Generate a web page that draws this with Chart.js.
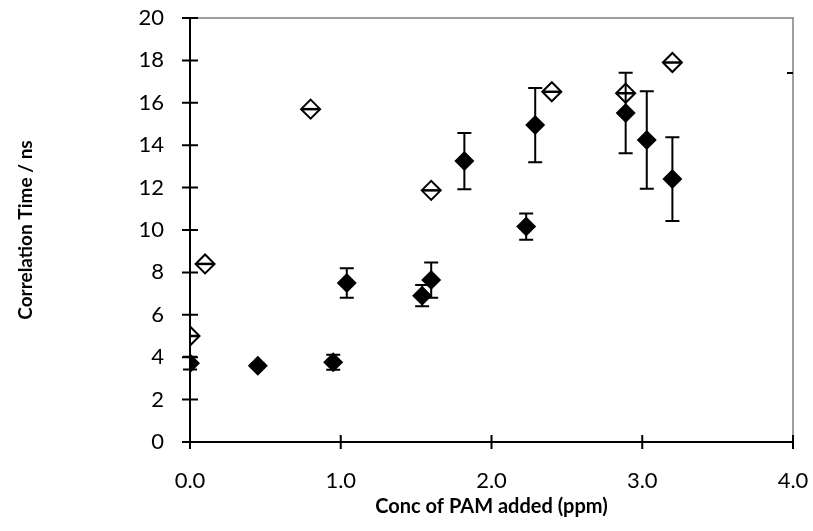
<!DOCTYPE html>
<html>
<head>
    <title>Correlation Time</title>
    <style type="text/css">
        body {
            margin: 0;
            background: #ffffff;
        }
        #box {
            width: 813px;
            height: 531px;
            position: relative;
        }
    </style>
</head>
<body>
    <div id="box"><canvas id="chartContainer"></canvas></div>
    <script src="https://cdn.jsdelivr.net/npm/chart.js@4.4.0/dist/chart.umd.min.js"></script>
    <script>
        // filled diamonds (with error bars)
        var filledX = [0.00, 0.45, 0.95, 1.04, 1.54, 1.60, 1.82, 2.23, 2.29, 2.89, 3.03, 3.20];
        var filledY = [3.72, 3.60, 3.76, 7.50, 6.90, 7.64, 13.25, 10.16, 14.95, 15.52, 14.25, 12.40];
        var filledErr = [0.3, 0.1, 0.35, 0.70, 0.50, 0.83, 1.33, 0.62, 1.75, 1.90, 2.30, 1.97];

        // open diamonds
        var openX = [0.00, 0.10, 0.80, 1.60, 2.40, 2.89, 3.20];
        var openY = [5.00, 8.40, 15.70, 11.87, 16.52, 16.45, 17.90];

        var xTicks = [0, 1, 2, 3, 4];
        var yTicks = [0, 2, 4, 6, 8, 10, 12, 14, 16, 18, 20];

        var FONT = "Lato, 'Open Sans', sans-serif";

        function toPoints(xs, ys) {
            return xs.map((x, i) => ({ x: x, y: ys[i] }));
        }

        // keep the plot box where the layout padding puts it
        function noOverflow(s) {
            s.paddingTop = 0;
            s.paddingBottom = 0;
            s.paddingLeft = 0;
            s.paddingRight = 0;
        }

        var errorBars = {
            id: 'errorBars',
            beforeDatasetDraw(chart, args) {
                if (args.index !== 0) return;
                var ctx = chart.ctx;
                var xs = chart.scales.x, ys = chart.scales.y;
                ctx.save();
                ctx.strokeStyle = '#000';
                ctx.lineWidth = 2;
                filledX.forEach((x, i) => {
                    var px = xs.getPixelForValue(x);
                    var top = ys.getPixelForValue(filledY[i] + filledErr[i]);
                    var bot = ys.getPixelForValue(filledY[i] - filledErr[i]);
                    ctx.beginPath();
                    ctx.moveTo(px, top); ctx.lineTo(px, bot);
                    ctx.moveTo(px - 7, top); ctx.lineTo(px + 7, top);
                    ctx.moveTo(px - 7, bot); ctx.lineTo(px + 7, bot);
                    ctx.stroke();
                });
                ctx.restore();
            }
        };

        var frame = {
            id: 'frame',
            beforeDatasetsDraw(chart) {
                var ctx = chart.ctx;
                var a = chart.chartArea;
                var xs = chart.scales.x, ys = chart.scales.y;
                ctx.save();
                // grey top and right border
                ctx.strokeStyle = '#808080';
                ctx.lineWidth = 1.5;
                ctx.beginPath();
                ctx.moveTo(a.left, a.top); ctx.lineTo(a.right, a.top); ctx.lineTo(a.right, a.bottom);
                ctx.stroke();
                // axes
                ctx.strokeStyle = '#000';
                ctx.lineWidth = 2;
                ctx.beginPath();
                ctx.moveTo(a.left, a.top); ctx.lineTo(a.left, a.bottom); ctx.lineTo(a.right, a.bottom);
                yTicks.forEach(v => {
                    var py = ys.getPixelForValue(v);
                    ctx.moveTo(a.left - 8, py); ctx.lineTo(a.left + 8, py);
                });
                xTicks.forEach(v => {
                    var px = xs.getPixelForValue(v);
                    ctx.moveTo(px, a.bottom - 7); ctx.lineTo(px, a.bottom + 7);
                });
                // stray tick on right border
                var sy = ys.getPixelForValue(17.4);
                ctx.moveTo(a.right - 6, sy); ctx.lineTo(a.right, sy);
                ctx.stroke();
                ctx.restore();
            }
        };

        var ctx = document.getElementById('chartContainer').getContext('2d');
        new Chart(ctx, {
            type: 'scatter',
            data: {
                datasets: [
                    {
                        label: 'filled',
                        data: toPoints(filledX, filledY),
                        pointStyle: 'rectRot',
                        radius: 10,
                        backgroundColor: '#000',
                        borderColor: '#000',
                        borderWidth: 0
                    },
                    {
                        label: 'open bar',
                        data: toPoints(openX, openY),
                        pointStyle: 'line',
                        radius: 9,
                        borderColor: '#000',
                        borderWidth: 2.5
                    },
                    {
                        label: 'open',
                        data: toPoints(openX, openY),
                        pointStyle: 'rectRot',
                        radius: 9.5,
                        backgroundColor: 'rgba(0,0,0,0)',
                        borderColor: '#000',
                        borderWidth: 2
                    }
                ]
            },
            options: {
                responsive: true,
                maintainAspectRatio: false,
                animation: false,
                layout: { padding: { top: 18, right: 20, bottom: 0, left: 0 } },
                plugins: {
                    legend: { display: false },
                    tooltip: { enabled: false }
                },
                scales: {
                    x: {
                        type: 'linear',
                        min: 0,
                        max: 4,
                        afterFit: s => { s.height = 89; noOverflow(s); },
                        grid: { display: false },
                        border: { display: false },
                        afterBuildTicks: s => { s.ticks = xTicks.map(v => ({ value: v })); },
                        ticks: {
                            padding: 18,
                            color: '#000',
                            font: { family: FONT, size: 22 },
                            callback: v => v.toFixed(1)
                        },
                        title: {
                            display: true,
                            text: 'Conc of PAM added (ppm)',
                            color: '#000',
                            font: { family: FONT, size: 20, weight: 'bold' },
                            padding: { top: 0, bottom: 12 }
                        }
                    },
                    y: {
                        type: 'linear',
                        min: 0,
                        max: 20,
                        afterFit: s => { s.width = 190; noOverflow(s); },
                        grid: { display: false },
                        border: { display: false },
                        afterBuildTicks: s => { s.ticks = yTicks.map(v => ({ value: v })); },
                        ticks: {
                            padding: 18,
                            color: '#000',
                            font: { family: FONT, size: 22 }
                        },
                        title: {
                            display: true,
                            text: 'Correlation Time / ns',
                            color: '#000',
                            font: { family: FONT, size: 19, weight: 'bold' },
                            padding: { top: 14, bottom: 0 }
                        }
                    }
                }
            },
            plugins: [frame, errorBars]
        });
    </script>
</body>
</html>
